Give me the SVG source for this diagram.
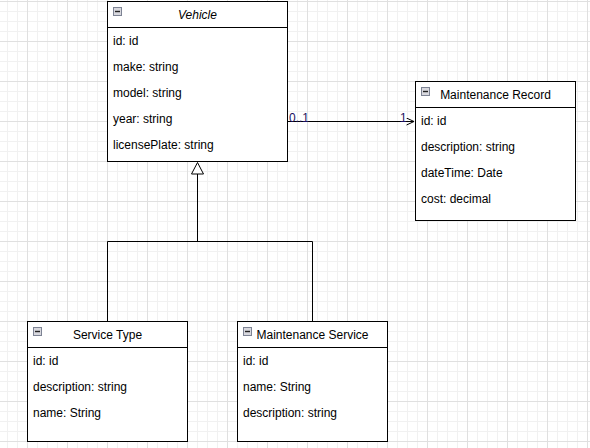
<svg xmlns="http://www.w3.org/2000/svg" width="590" height="448" viewBox="0 0 590 448">
<style>
.box{fill:#fff;stroke:#000;stroke-width:1}
.hdr{fill:none;stroke:#000;stroke-width:1}
.t{font-family:"Liberation Sans",Arial,sans-serif;font-size:12px;fill:#000;dominant-baseline:central}
.title{text-anchor:middle}
.edge{fill:none;stroke:#000;stroke-width:1}
.icon{fill:#d8d8de;stroke:#7d8394;stroke-width:1}
.iconbar{stroke:#222;stroke-width:1.4}
.lbl{font-family:"Liberation Sans",Arial,sans-serif;font-size:12px;fill:#1a1060}
</style>
<defs>
<pattern id="grid" x="27" y="1" width="40" height="40" patternUnits="userSpaceOnUse">
<rect x="0" y="0" width="40" height="40" fill="#fff"/>
<rect x="10" y="0" width="1" height="40" fill="#f1f1f1"/>
<rect x="20" y="0" width="1" height="40" fill="#f1f1f1"/>
<rect x="30" y="0" width="1" height="40" fill="#f1f1f1"/>
<rect x="0" y="10" width="40" height="1" fill="#f1f1f1"/>
<rect x="0" y="20" width="40" height="1" fill="#f1f1f1"/>
<rect x="0" y="30" width="40" height="1" fill="#f1f1f1"/>
<rect x="0" y="0" width="1" height="40" fill="#e0e0e0"/>
<rect x="0" y="0" width="40" height="1" fill="#e0e0e0"/>
</pattern>
<marker id="open" markerWidth="10" markerHeight="10" refX="8" refY="4" orient="auto" markerUnits="userSpaceOnUse">
<path d="M0.5,0.5 L8,4 L0.5,7.5" fill="none" stroke="#000" stroke-width="1"/>
</marker>
</defs>
<rect width="590" height="448" fill="url(#grid)"/>

<g id="connectors">
<path class="edge" d="M287.5,121.5 H414" marker-end="url(#open)"/>
<text class="lbl" x="289" y="122">0..1</text>
<text class="lbl" x="400" y="122">1</text>
<path class="edge" d="M107.5,321.5 V241.5 H312.5 V321.5"/>
<path class="edge" d="M197.5,241.5 V174"/>
<path d="M197.5,162.5 L203.5,174 L191.5,174 Z" fill="#fff" stroke="#000" stroke-width="1"/>
</g>

<g id="vehicle">
<rect class="box" x="107.5" y="1.5" width="180" height="160"/>
<line class="hdr" x1="107.5" y1="27.5" x2="287.5" y2="27.5"/>
<rect class="icon" x="113.5" y="7.5" width="8" height="8"/>
<line class="iconbar" x1="115" y1="11.5" x2="120" y2="11.5"/>
<text class="t title" x="197.5" y="15" font-style="italic">Vehicle</text>
<text class="t" x="113" y="41">id: id</text>
<text class="t" x="113" y="67">make: string</text>
<text class="t" x="113" y="93">model: string</text>
<text class="t" x="113" y="119">year: string</text>
<text class="t" x="113" y="145">licensePlate: string</text>
</g>

<g id="maintenance-record">
<rect class="box" x="415.5" y="81.5" width="160" height="139"/>
<line class="hdr" x1="415.5" y1="107.5" x2="575.5" y2="107.5"/>
<rect class="icon" x="421.5" y="87.5" width="8" height="8"/>
<line class="iconbar" x1="423" y1="91.5" x2="428" y2="91.5"/>
<text class="t title" x="495.5" y="95">Maintenance Record</text>
<text class="t" x="421" y="121">id: id</text>
<text class="t" x="421" y="147">description: string</text>
<text class="t" x="421" y="173">dateTime: Date</text>
<text class="t" x="421" y="199">cost: decimal</text>
</g>

<g id="service-type">
<rect class="box" x="27.5" y="321.5" width="160" height="120"/>
<line class="hdr" x1="27.5" y1="347.5" x2="187.5" y2="347.5"/>
<rect class="icon" x="33.5" y="327.5" width="8" height="8"/>
<line class="iconbar" x1="35" y1="331.5" x2="40" y2="331.5"/>
<text class="t title" x="107.5" y="335">Service Type</text>
<text class="t" x="33" y="361">id: id</text>
<text class="t" x="33" y="387">description: string</text>
<text class="t" x="33" y="413">name: String</text>
</g>

<g id="maintenance-service">
<rect class="box" x="237.5" y="321.5" width="150" height="120"/>
<line class="hdr" x1="237.5" y1="347.5" x2="387.5" y2="347.5"/>
<rect class="icon" x="243.5" y="327.5" width="8" height="8"/>
<line class="iconbar" x1="245" y1="331.5" x2="250" y2="331.5"/>
<text class="t title" x="312.5" y="335">Maintenance Service</text>
<text class="t" x="243" y="361">id: id</text>
<text class="t" x="243" y="387">name: String</text>
<text class="t" x="243" y="413">description: string</text>
</g>
</svg>
